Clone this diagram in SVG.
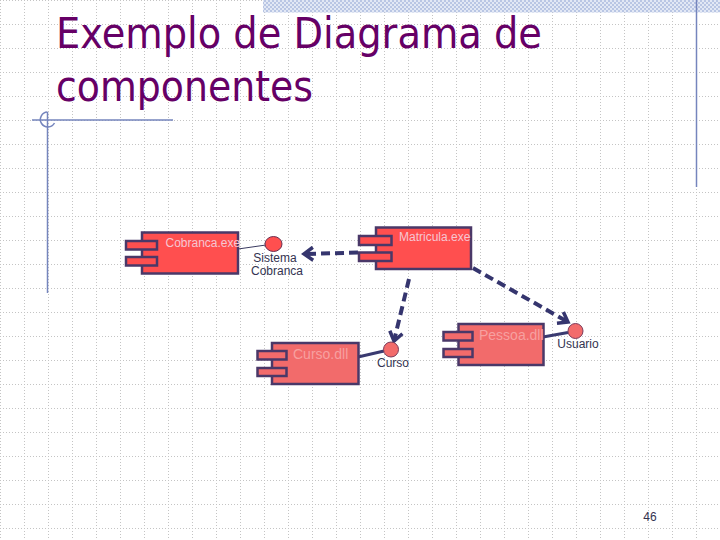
<svg xmlns="http://www.w3.org/2000/svg" width="720" height="540" viewBox="0 0 720 540">
<defs>
<pattern id="grid" x="0" y="0" width="24" height="24" patternUnits="userSpaceOnUse">
<path d="M0.5,0 V24 M0,0.5 H24" stroke="#c4c4c4" stroke-width="1" stroke-dasharray="1 2" fill="none"/>
</pattern>
<pattern id="checker" x="0" y="0" width="4" height="4" patternUnits="userSpaceOnUse">
<rect width="4" height="4" fill="#e2e8f5"/>
<rect width="2" height="2" fill="#b9c6e4"/>
<rect x="2" y="2" width="2" height="2" fill="#b9c6e4"/>
</pattern>
<marker id="arr" markerWidth="16" markerHeight="16" refX="13" refY="8" orient="auto" markerUnits="userSpaceOnUse">
<path d="M4,1.5 L13,8 L4,14.5" fill="none" stroke="#35356e" stroke-width="3.5" stroke-linejoin="miter"/>
</marker>
</defs>
<style>
.body{stroke:#4a3868;stroke-width:2.5}
.hot{fill:#ff4f4f}
.soft{fill:#f26b6b}
.lbl{font-family:"Liberation Sans",Arial,sans-serif;font-size:12px}
.in1{fill:#f6c6d2}
.in2{fill:#f7a0a0;font-size:14px}
.ext{fill:#333350}
.dep{fill:none;stroke:#35356e;stroke-width:4;stroke-dasharray:9 5}
.deco{stroke:#7585bd;stroke-width:1.5;fill:none}
</style>
<rect width="720" height="540" fill="#ffffff"/>
<rect width="720" height="540" fill="url(#grid)"/>
<rect x="263" y="0" width="457" height="12.5" fill="url(#checker)"/>
<line class="deco" x1="696.5" y1="0" x2="696.5" y2="187"/>
<line class="deco" x1="32" y1="120" x2="173" y2="120"/>
<line class="deco" x1="47.5" y1="112" x2="47.5" y2="293"/>
<path class="deco" d="M47.5,112 A7.5,7.5 0 1 0 54.5,123"/>

<g id="title" font-family="'DejaVu Sans Condensed','DejaVu Sans',sans-serif" font-size="42" fill="#660066">
<text x="56" y="48" textLength="486" lengthAdjust="spacingAndGlyphs">Exemplo de Diagrama de</text>
<text x="56" y="101" textLength="257" lengthAdjust="spacingAndGlyphs">componentes</text>
</g>

<g id="connectors">
<line x1="238" y1="249" x2="266" y2="245" stroke="#3a3a60" stroke-width="1"/>
<line x1="358" y1="357" x2="384" y2="351" stroke="#3a3a70" stroke-width="3"/>
<line x1="543" y1="337" x2="568" y2="332.5" stroke="#3a3a70" stroke-width="3"/>
<path class="dep" d="M358,252.5 L304,254" marker-end="url(#arr)"/>
<path class="dep" d="M409,279 L394,341" marker-end="url(#arr)"/>
<path class="dep" d="M473,268 L568,322" marker-end="url(#arr)"/>
</g>

<g id="cobranca">
<rect class="body hot" x="142" y="232.5" width="96" height="41"/>
<rect class="body hot" x="126" y="241" width="31" height="8.5"/>
<rect class="body hot" x="126" y="257" width="31" height="8.5"/>
<text class="lbl in1" x="165.5" y="246.5">Cobranca.exe</text>
</g>

<g id="sistema-cobranca">
<ellipse cx="273.5" cy="244" rx="8.5" ry="7.5" fill="#ff4f4f" stroke="#6a3050" stroke-width="1"/>
<text class="lbl ext" x="275" y="262" text-anchor="middle">Sistema</text>
<text class="lbl ext" x="277" y="275" text-anchor="middle">Cobranca</text>
</g>

<g id="matricula">
<rect class="body hot" x="376" y="227.5" width="95" height="41.5"/>
<rect class="body hot" x="359" y="236" width="32.5" height="9"/>
<rect class="body hot" x="359" y="252.5" width="32.5" height="8.5"/>
<text class="lbl in1" x="399" y="241">Matricula.exe</text>
</g>

<g id="curso-dll">
<rect class="body soft" x="272" y="343" width="86.5" height="41"/>
<rect class="body soft" x="257.5" y="351" width="29" height="8.5"/>
<rect class="body soft" x="257.5" y="368" width="29" height="8"/>
<text class="lbl in2" x="293" y="359">Curso.dll</text>
</g>

<g id="curso">
<circle cx="391" cy="349.5" r="7.5" fill="#f26b6b" stroke="#7a3a5a" stroke-width="1"/>
<text class="lbl ext" x="393" y="367" text-anchor="middle">Curso</text>
</g>

<g id="pessoa-dll">
<rect class="body soft" x="458.5" y="324" width="85" height="41"/>
<rect class="body soft" x="443.5" y="332" width="29" height="8.5"/>
<rect class="body soft" x="443.5" y="349" width="29" height="8"/>
<text class="lbl in2" x="479" y="339.5">Pessoa.dll</text>
</g>

<g id="usuario">
<circle cx="575.5" cy="331" r="7.5" fill="#f26b6b" stroke="#7a3a5a" stroke-width="1"/>
<text class="lbl ext" x="578" y="348" text-anchor="middle">Usuario</text>
</g>

<text class="lbl ext" x="650" y="521" text-anchor="middle" font-size="13">46</text>
</svg>
